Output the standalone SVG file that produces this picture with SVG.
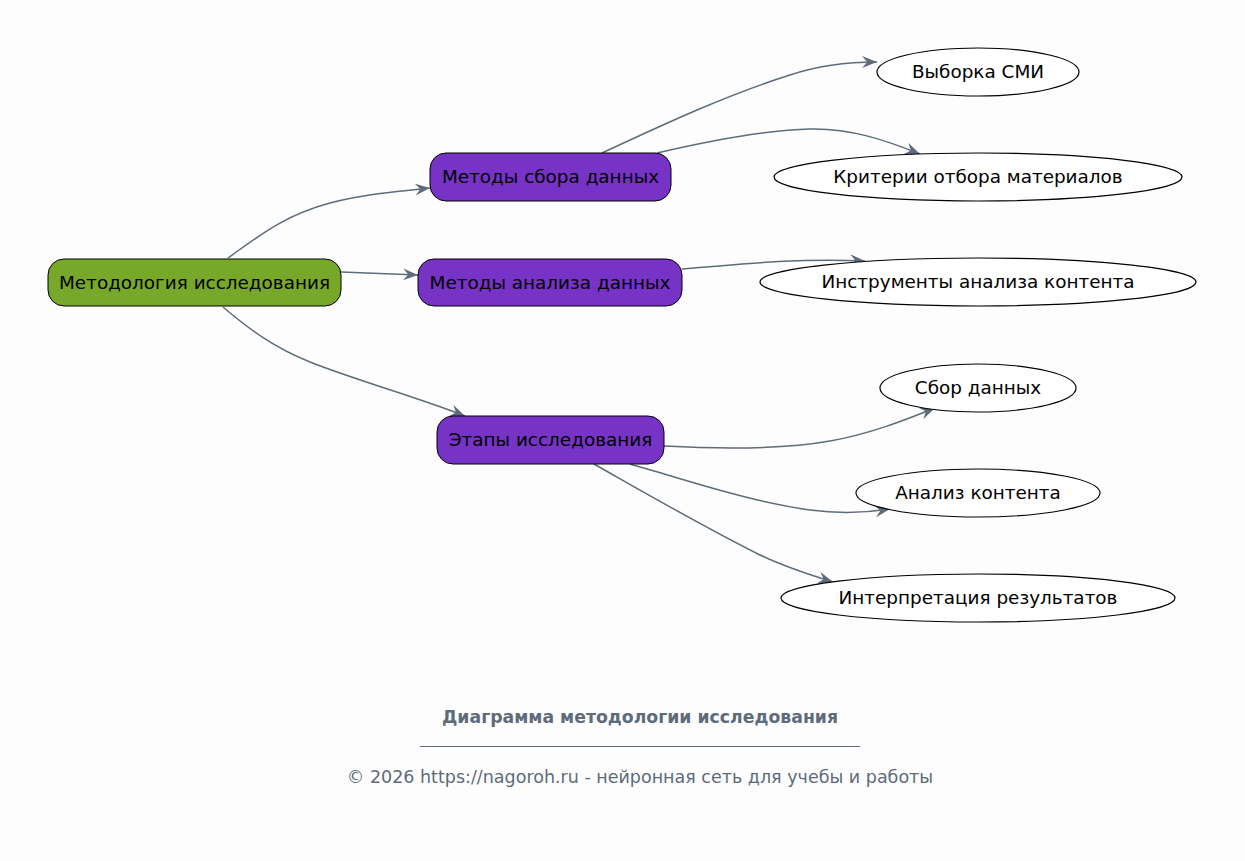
<svg xmlns="http://www.w3.org/2000/svg" width="1245" height="861" viewBox="0 0 1245 861">
<style>
.n text{font-family:"DejaVu Sans",sans-serif;font-size:18.4px;fill:#000;text-anchor:middle;dominant-baseline:central}
.root{fill:#78a82a;stroke:#000;stroke-width:1}
.mid{fill:#7633c6;stroke:#000;stroke-width:1}
.leaf{fill:#fff;stroke:#000;stroke-width:1.2}
.c path{fill:none;stroke:#5d6b7a;stroke-width:1.5}
.ft{font-family:"DejaVu Sans",sans-serif;fill:#5d6b7a;text-anchor:middle}
</style>
<defs>
<marker id="ah" markerWidth="15" markerHeight="12" refX="10" refY="5" orient="auto" markerUnits="userSpaceOnUse" viewBox="0 0 10 10" preserveAspectRatio="none">
<path d="M0,0 L10,5 L0,10 L3.5,5 z" fill="#5d6b7a"/>
</marker>
</defs>
<rect width="1245" height="861" fill="#fdfdfd"/>
<g id="connectors" class="c">
<path d="M228,258 C260,235 285,215 330,203 C365,194 400,191 430,188" marker-end="url(#ah)"/>
<path d="M341,272 L418,275" marker-end="url(#ah)"/>
<path d="M223,307 C250,330 275,348 310,362 C355,380 420,398 465,416" marker-end="url(#ah)"/>
<path d="M602,153 C650,131 720,97 790,75 C820,65 850,62 877,62" marker-end="url(#ah)"/>
<path d="M657,153 C700,143 760,130 810,129 C850,128 885,140 920,154" marker-end="url(#ah)"/>
<path d="M682,269 C740,264 800,258 865,261" marker-end="url(#ah)"/>
<path d="M664,446 C720,449 780,450 830,441 C870,434 905,420 935,408" marker-end="url(#ah)"/>
<path d="M630,464 C680,478 750,502 810,510 C840,514 865,513 890,509" marker-end="url(#ah)"/>
<path d="M594,464 C640,490 700,525 760,555 C785,567 810,575 833,582" marker-end="url(#ah)"/>
</g>
<g id="n-root" class="n"><rect class="root" x="48" y="259" width="293" height="47" rx="16"/><text x="194.5" y="282">Методология исследования</text></g>
<g id="n-sbor" class="n"><rect class="mid" x="430" y="153" width="241" height="48" rx="16"/><text x="550.5" y="176.5">Методы сбора данных</text></g>
<g id="n-analiz" class="n"><rect class="mid" x="418" y="259" width="264" height="47" rx="16"/><text x="550" y="282">Методы анализа данных</text></g>
<g id="n-etapy" class="n"><rect class="mid" x="437" y="416" width="227" height="48" rx="16"/><text x="550.5" y="439.5">Этапы исследования</text></g>
<g id="n-vyborka" class="n"><ellipse class="leaf" cx="978" cy="72" rx="101" ry="24"/><text x="978" y="71.5">Выборка СМИ</text></g>
<g id="n-kriterii" class="n"><ellipse class="leaf" cx="978" cy="177" rx="204" ry="24"/><text x="978" y="176.5">Критерии отбора материалов</text></g>
<g id="n-instr" class="n"><ellipse class="leaf" cx="978" cy="282" rx="218" ry="24"/><text x="978" y="281.5">Инструменты анализа контента</text></g>
<g id="n-sbordan" class="n"><ellipse class="leaf" cx="978" cy="388" rx="98" ry="24"/><text x="978" y="387.5">Сбор данных</text></g>
<g id="n-analizk" class="n"><ellipse class="leaf" cx="978" cy="493" rx="122" ry="24"/><text x="978" y="492.5">Анализ контента</text></g>
<g id="n-interp" class="n"><ellipse class="leaf" cx="978" cy="598" rx="197" ry="24"/><text x="978" y="597.5">Интерпретация результатов</text></g>
<g id="footer">
<text class="ft" x="640" y="723" font-size="17.3" font-weight="bold">Диаграмма методологии исследования</text>
<line x1="420" y1="746.5" x2="860" y2="746.5" stroke="#5d6b7a" stroke-width="1"/>
<text class="ft" x="640" y="783" font-size="17.5">© 2026 https://nagoroh.ru - нейронная сеть для учебы и работы</text>
</g>
</svg>
